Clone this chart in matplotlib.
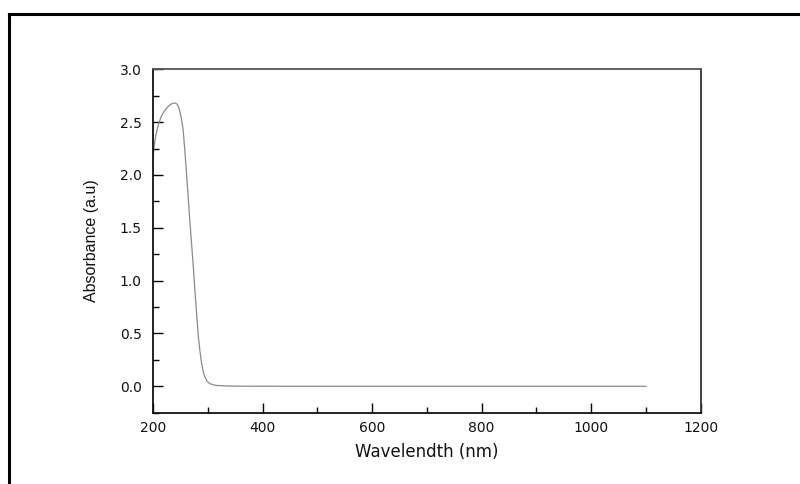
import matplotlib
matplotlib.use("Agg")
import matplotlib.pyplot as plt
from matplotlib.lines import Line2D
from matplotlib.ticker import MultipleLocator, FormatStrFormatter

# Data
wavelength = [200, 202, 204, 207, 210, 214, 219, 223, 228, 233, 237, 241, 244, 247,
              249, 252, 255, 258, 261, 264, 267, 271, 274, 277, 280, 283, 286,
              289, 292, 295, 299, 304, 310, 316, 325, 335, 360, 500, 700, 900, 1100]
absorbance = [2.15, 2.27, 2.34, 2.42, 2.48, 2.54, 2.59, 2.62, 2.65, 2.67, 2.68, 2.68,
              2.67, 2.64, 2.60, 2.53, 2.43, 2.24, 2.03, 1.81, 1.58, 1.31, 1.10, 0.87,
              0.66, 0.46, 0.32, 0.21, 0.13, 0.087, 0.045, 0.025, 0.014, 0.008, 0.005,
              0.003, 0.001, 0.0, 0.0, 0.0, 0.0]

x_ticks = [200, 400, 600, 800, 1000, 1200]
y_ticks = [0.0, 0.5, 1.0, 1.5, 2.0, 2.5, 3.0]
x_label = "Wavelendth (nm)"
y_label = "Absorbance (a.u)"

fig = plt.figure(figsize=(8.0, 4.84), dpi=100)
ax = fig.add_axes([153 / 800, 1 - 412.7 / 484, (700.7 - 153) / 800, (412.7 - 69.3) / 484])

ax.plot(wavelength, absorbance, color="#8a8a8a", lw=0.9)

ax.set_xlim(200, 1200)
ax.set_ylim(-0.25, 3.0)
ax.set_xticks(x_ticks)
ax.set_yticks(y_ticks)
ax.xaxis.set_minor_locator(MultipleLocator(100))
ax.yaxis.set_minor_locator(MultipleLocator(0.25))
ax.yaxis.set_major_formatter(FormatStrFormatter("%.1f"))

ax.tick_params(which="major", direction="in", length=7, width=1.0, color="black",
               labelsize=10, labelcolor="#111111")
ax.tick_params(which="minor", direction="in", length=4, width=1.0, color="black")
ax.tick_params(axis="y", which="major", pad=8)
ax.tick_params(axis="x", which="major", pad=6)
for lab in ax.get_xticklabels() + ax.get_yticklabels():
    lab.set_family("DejaVu Sans")

ax.spines["left"].set_color("#111111")
ax.spines["bottom"].set_color("#111111")
ax.spines["top"].set_color("#555555")
ax.spines["right"].set_color("#333333")
for s in ax.spines.values():
    s.set_linewidth(1.3)

ax.set_xlabel(x_label, family="DejaVu Sans", fontsize=12, color="#111111", labelpad=6)
ax.set_ylabel(y_label, family="Liberation Sans", fontsize=11.5, color="#111111", labelpad=15)

# outer frame (top and left edges visible)
fig.add_artist(Line2D([9 / 800, 1.0], [1 - 14 / 484, 1 - 14 / 484], color="black", lw=2.2,
                      transform=fig.transFigure))
fig.add_artist(Line2D([9 / 800, 9 / 800], [0.0, 1 - 14 / 484], color="black", lw=2.2,
                      transform=fig.transFigure))

fig.savefig("out.png", dpi=100, facecolor="white")
